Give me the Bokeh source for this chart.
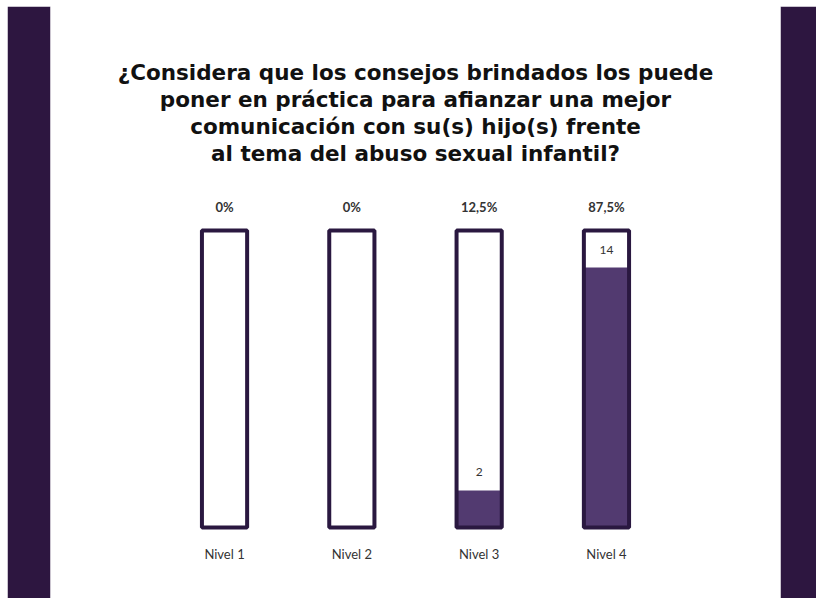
from bokeh.plotting import figure
from bokeh.models import FactorRange, Range1d, Label, ColumnDataSource
from bokeh.core.properties import value
from bokeh.embed import file_html
from bokeh.resources import INLINE

categories = ["Nivel 1", "Nivel 2", "Nivel 3", "Nivel 4"]
percent = [0.0, 0.0, 12.5, 87.5]
counts = [0, 0, 2, 14]
pct_labels = ["0%", "0%", "12,5%", "87,5%"]
title_lines = [
    "¿Considera que los consejos brindados los puede",
    "poner en práctica para afianzar una mejor",
    "comunicación con su(s) hijo(s) frente",
    "al tema del abuso sexual infantil?",
]

BAND = "#2d1640"
FILL = "#523a70"
EDGE = "#2a1840"
TEXT = "#333333"

W, H = 809, 592
ML, MR = 43, 36
p = figure(width=W, height=H, output_backend="svg", toolbar_location=None,
           x_range=FactorRange(*categories, range_padding=0.867, range_padding_units="absolute"),
           y_range=Range1d(-23.9, 175.4),
           min_border_left=ML, min_border_right=MR, min_border_top=0, min_border_bottom=0)
p.margin = (6, 0, 0, 7)
p.border_fill_color = BAND
p.background_fill_color = "white"
p.outline_line_color = None
p.xaxis.visible = False
p.yaxis.visible = False
p.grid.visible = False

src = ColumnDataSource(dict(cat=categories, pct=percent, full=[100] * 4,
                            pl=pct_labels,
                            cl=[str(c) if c else "" for c in counts]))

p.vbar(x="cat", top="pct", bottom=0, width=0.355, source=src,
       fill_color=FILL, line_color=None)
p.vbar(x="cat", top="full", bottom=0, width=0.355, source=src,
       fill_color=None, line_color=EDGE, line_width=4)

p.text(x="cat", y="full", text="pl", source=src, y_offset=-23,
       text_align="center", text_baseline="middle",
       text_font=value("Lato"), text_font_style="bold", text_font_size="13px",
       text_color=TEXT)
p.text(x="cat", y="pct", text="cl", source=src, y_offset=-18,
       text_align="center", text_baseline="middle",
       text_font=value("Lato"), text_font_size="12px", text_color=TEXT)
p.text(x="cat", y=0, text="cat", source=src, y_offset=26,
       text_align="center", text_baseline="middle",
       text_font=value("Lato"), text_font_size="13px", text_color=TEXT)

frame_w = W - ML - MR
for i, line in enumerate(title_lines):
    p.add_layout(Label(x=frame_w / 2, y=H - 66 - 27 * i, x_units="screen", y_units="screen",
                       text=line, text_align="center", text_baseline="middle",
                       text_font="DejaVu Sans", text_font_style="bold",
                       text_font_size="21.5px", text_color="#111111"))

open("out.html", "w").write(file_html(p, INLINE))
